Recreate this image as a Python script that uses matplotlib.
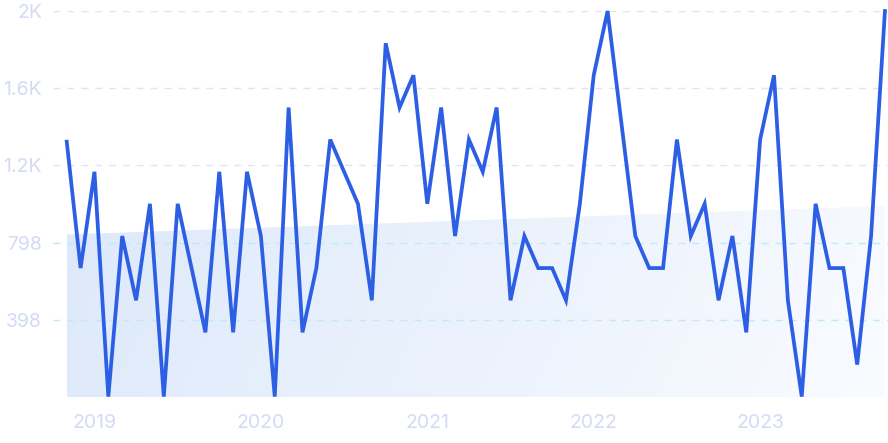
import numpy as np
import pandas as pd
import matplotlib
matplotlib.use("Agg")
import matplotlib.pyplot as plt
from matplotlib.colors import LinearSegmentedColormap

# monthly values, Nov 2018 .. Oct 2023
months = pd.date_range("2018-11-01", periods=60, freq="MS")
values = [1321, 666, 1165, 0, 832, 499, 999, 0, 999, 666,
          333, 1165, 333, 1165, 832, 0, 1498, 333, 666, 1332,
          1165, 999, 499, 1831, 1498, 1665, 999, 1498, 832, 1332,
          1165, 1498, 499, 832, 666, 666, 499, 999, 1665, 1998,
          1415, 832, 666, 666, 1332, 832, 999, 499, 832, 333,
          1332, 1665, 499, 0, 999, 666, 666, 166, 832, 1998]
yticks = [398, 798, 1198, 1598, 1998]
ylabels = ["398", "798", "1.2K", "1.6K", "2K"]

plt.rcParams['font.family'] = ['Inter', 'DejaVu Sans']

fig = plt.figure(figsize=(8.88, 4.43), dpi=100)
ax = fig.add_axes([53/888, 46/443, 835/888, 386/443])

x = np.arange(len(values))
y = np.array(values, dtype=float)

# trend area with gradient
coef = np.polyfit(x, y, 1)
trend = np.poly1d(coef)(x)
ymin = -2
poly = ax.fill_between(x, ymin, trend, color="none", lw=0)
cmap = LinearSegmentedColormap.from_list("g", ["#dde9fa", "#f9fbff"])
gx, gy = np.meshgrid(np.linspace(0, 1, 200), np.linspace(0, 1, 100))
grad = 0.9 * gx + 0.1 * gy
img = ax.imshow(grad, cmap=cmap, aspect="auto", origin="upper",
                extent=[x[0], x[-1], ymin, trend.max()], zorder=1)
img.set_clip_path(poly.get_paths()[0], transform=ax.transData)

# grid
for t in yticks:
    c = "#c3e7fc" if t < 1000 else "#dfe4f8"
    ax.axhline(t, color=c, lw=1, ls=(0, (5, 5)), zorder=2)

ax.plot(x, y, color="#2d5fe4", lw=2.7, zorder=3, clip_on=False,
        solid_joinstyle="miter")

ax.set_xlim(-0.99, 59.22)
ax.set_ylim(ymin, 1998)
jan = [i for i, m in enumerate(months) if m.month == 1]
ax.set_xticks(jan)
ax.set_xticklabels([str(months[i].year) for i in jan])
ax.set_yticks(yticks)
ax.set_yticklabels(ylabels)
ax.tick_params(length=0, labelsize=14, colors="#d3dbf4")
ax.tick_params(axis="y", pad=8)
ax.tick_params(axis="x", pad=12)
for s in ax.spines.values():
    s.set_visible(False)

fig.savefig("out.png", dpi=100)
